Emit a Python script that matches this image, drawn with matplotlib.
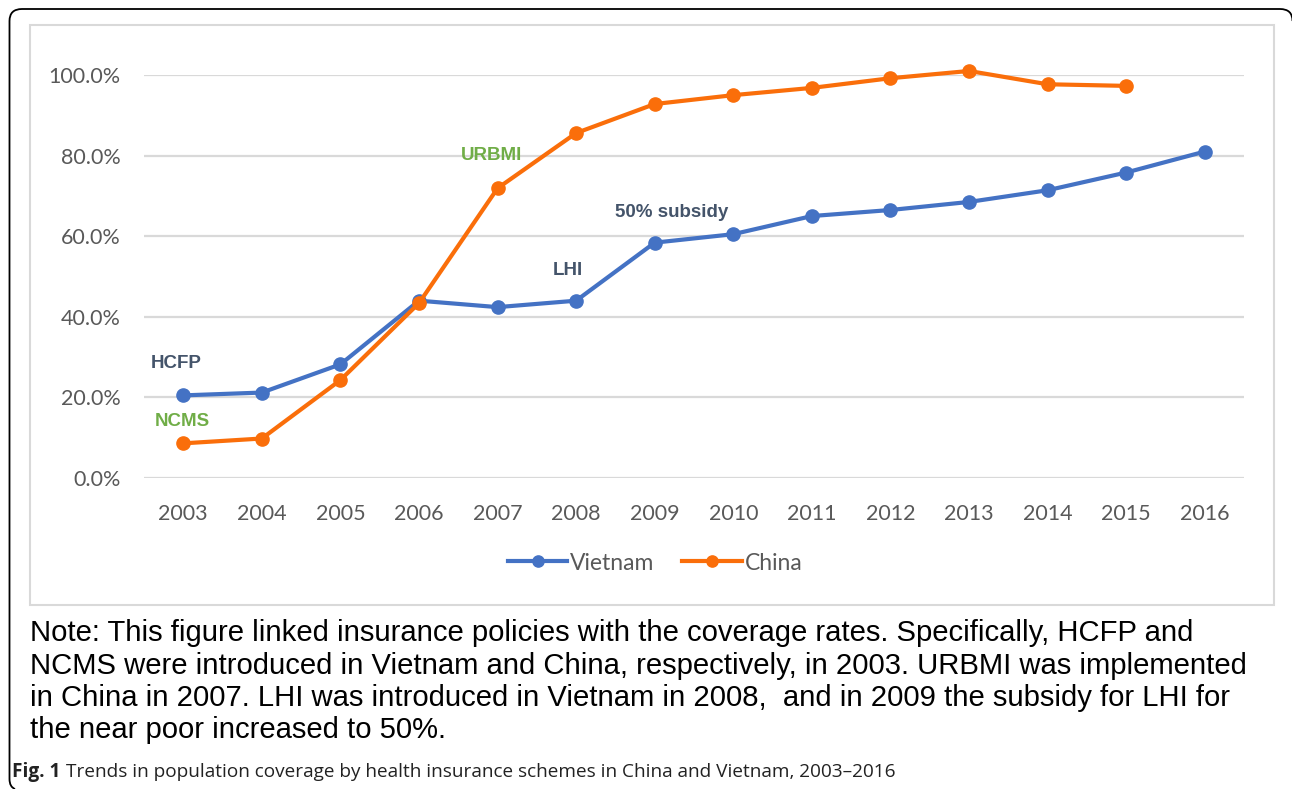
import matplotlib
matplotlib.use("Agg")
import matplotlib.pyplot as plt
from matplotlib.patches import Rectangle, PathPatch
from matplotlib.path import Path
from matplotlib.ticker import FuncFormatter

years = ["2003", "2004", "2005", "2006", "2007", "2008", "2009", "2010",
         "2011", "2012", "2013", "2014", "2015", "2016"]
vietnam = [0.205, 0.212, 0.282, 0.44, 0.424, 0.44, 0.584, 0.605, 0.65, 0.665,
           0.685, 0.714, 0.758, 0.81]
china = [0.086, 0.098, 0.243, 0.434, 0.719, 0.856, 0.928, 0.950, 0.968, 0.992,
         1.010, 0.977, 0.973]
yticks = [0.0, 0.2, 0.4, 0.6, 0.8, 1.0]

annotations = [
    ("HCFP", -0.09, 0.285, "#44546A"),
    ("NCMS", -0.01, 0.141, "#70AD47"),
    ("URBMI", 3.92, 0.801, "#70AD47"),
    ("LHI", 4.89, 0.516, "#44546A"),
    ("50% subsidy", 6.21, 0.66, "#44546A"),
]

note_lines = [
    "Note: This figure linked insurance policies with the coverage rates. Specifically, HCFP and",
    "NCMS were introduced in Vietnam and China, respectively, in 2003. URBMI was implemented",
    "in China in 2007. LHI was introduced in Vietnam in 2008,  and in 2009 the subsidy for LHI for",
    "the near poor increased to 50%.",
]
caption_bold = "Fig. 1"
caption_rest = "Trends in population coverage by health insurance schemes in China and Vietnam, 2003\u20132016"

W, H = 1292, 789
fig = plt.figure(figsize=(W / 100, H / 100), dpi=100)
fig.patch.set_facecolor("white")

# outer frame: top edge with rounded corners, left edge, small curl at bottom-left
top = H - 9
verts = [(1292.5, top - 12), (1292.5, top), (1280, top),
         (22, top), (9.5, top), (9.5, top - 12),
         (9.5, 10), (9.5, 2), (15, 0)]
codes = [Path.MOVETO, Path.CURVE3, Path.CURVE3,
         Path.LINETO, Path.CURVE3, Path.CURVE3,
         Path.LINETO, Path.CURVE3, Path.CURVE3]
frame = PathPatch(Path(verts, codes), transform=None, fill=False,
                  edgecolor="black", lw=1.3, clip_on=False)
fig.patches.append(frame)
# chart area box
box = Rectangle((30 / W, 1 - 605 / H), 1244 / W, 580 / H,
                transform=fig.transFigure, fill=False,
                edgecolor="#D9D9D9", lw=1.5)
fig.patches.append(box)

ax = fig.add_axes([144 / W, 1 - 478 / H, 1100 / W, 403 / H])
x = list(range(len(years)))
blue = "#4472C4"
orange = "#FA6E0A"
lv, = ax.plot(x, vietnam, color=blue, lw=3.0, marker="o", ms=9.5,
              clip_on=False, zorder=3, label="Vietnam")
lc, = ax.plot(x[:len(china)], china, color=orange, lw=3.0, marker="o", ms=9.5,
              clip_on=False, zorder=4, label="China")

ax.set_xlim(-0.5, len(years) - 0.5)
ax.set_ylim(0, 1.0)
ax.set_yticks(yticks)
ax.yaxis.set_major_formatter(FuncFormatter(lambda v, p: f"{v * 100:.1f}%"))
ax.set_xticks(x)
ax.set_xticklabels(years)
ax.grid(axis="y", color="#D9D9D9", lw=1.6)
ax.set_axisbelow(True)
for s in ax.spines.values():
    s.set_visible(False)
ax.tick_params(length=0, colors="#595959", labelsize=15.5)
ax.tick_params(axis="y", pad=17)
ax.tick_params(axis="x", pad=19)
for lab in ax.get_xticklabels() + ax.get_yticklabels():
    lab.set_fontfamily("Lato")

for txt, xi, yi, col in annotations:
    ax.text(xi, yi, txt, color=col, fontsize=13.5, fontweight="bold",
            family="Liberation Sans", ha="center", va="center")

leg = fig.legend(handles=[lv, lc], loc="center",
                 bbox_to_anchor=(655 / W, 1 - 563 / H), ncol=2, frameon=False,
                 handlelength=2.6, handletextpad=0.12, columnspacing=1.2,
                 markerscale=0.85,
                 prop={"family": "Lato", "size": 16.5})
for t in leg.get_texts():
    t.set_color("#595959")

for i, line in enumerate(note_lines):
    fig.text(30 / W, 1 - (633 + i * 32.5) / H, line, fontsize=21.1,
             family="Liberation Sans", color="black", ha="left", va="center")

fig.canvas.draw()
r = fig.canvas.get_renderer()
tb = fig.text(12 / W, 1 - 772 / H, caption_bold, fontsize=13.7, fontweight="bold",
              family="Open Sans", color="#222222", ha="left", va="center")
bb = tb.get_window_extent(r)
fig.text((bb.x1 + 6) / W, 1 - 772 / H, caption_rest, fontsize=13.7,
         family="Open Sans", color="#222222", ha="left", va="center")

fig.savefig("out.png", dpi=100, facecolor="white")
